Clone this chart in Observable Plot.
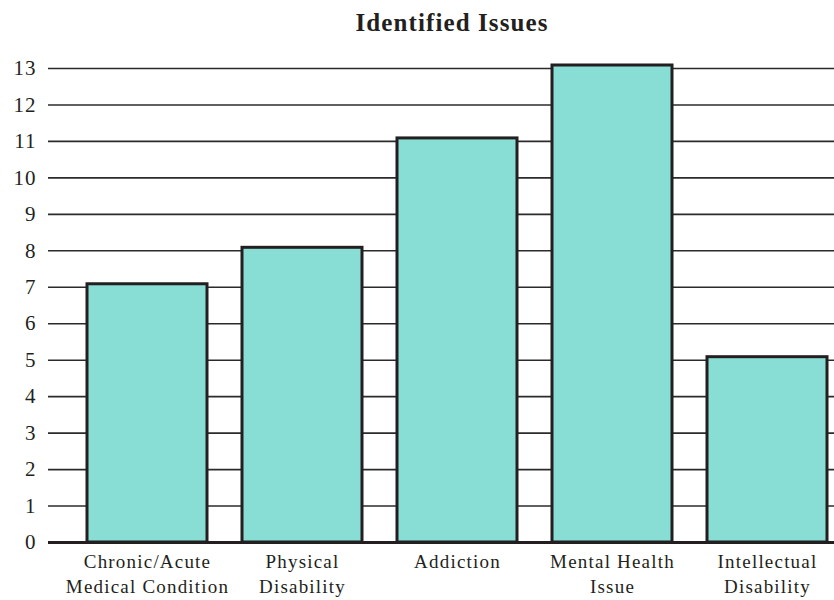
<!DOCTYPE html>
<html>
<head>
<meta charset="utf-8">
<script src="https://cdn.jsdelivr.net/npm/d3@7"></script>
<script src="https://cdn.jsdelivr.net/npm/@observablehq/plot@0.6"></script>
<style>
  body { margin: 0; background: #fff; }
  #title {
    font-family: "Liberation Serif", "Times New Roman", serif;
    font-weight: bold;
    font-size: 25px;
    line-height: 25px;
    letter-spacing: 1.1px;
    padding: 10px 0 9px 70px;
    width: 764px;
    text-align: center;
    color: #231f20;
  }
  [aria-label="x-axis tick label"] { letter-spacing: 1.2px; }
  [aria-label="y-axis tick label"] { letter-spacing: 1px; }
</style>
</head>
<body>
<div id="title">Identified Issues</div>
<div id="chart"></div>
<script>
// Number of cases per identified issue
const categories = [
  "Chronic/Acute Medical Condition",
  "Physical Disability",
  "Addiction",
  "Mental Health Issue",
  "Intellectual Disability"
];
const tickLabels = [
  "Chronic/Acute\nMedical Condition",
  "Physical\nDisability",
  "Addiction",
  "Mental Health\nIssue",
  "Intellectual\nDisability"
];
const counts = [7, 8, 11, 13, 5];
const yTicks = [0, 1, 2, 3, 4, 5, 6, 7, 8, 9, 10, 11, 12, 13];

const data = categories.map((c, i) => ({category: c, count: counts[i]}));
const labelOf = new Map(categories.map((c, i) => [c, tickLabels[i]]));

const chart = Plot.plot({
  width: 834,
  height: 556,
  marginTop: 24,
  marginBottom: 58,
  marginLeft: 48,
  marginRight: 0,
  style: {fontFamily: '"Liberation Serif", "Times New Roman", serif', color: "#231f20", background: "#fff"},
  x: {domain: categories, range: [50.6, 863.8], padding: 0.223},
  y: {domain: [0, 13]},
  marks: [
    Plot.ruleY(yTicks.filter(d => d > 0), {stroke: "#2b2b2b", strokeWidth: 1.6}),
    Plot.barY(data, {x: "category", y: "count", fill: "#88ded4", stroke: "#231f20", strokeWidth: 3, insetTop: -3}),
    Plot.ruleY([0], {stroke: "#231f20", strokeWidth: 3}),
    Plot.axisY({ticks: yTicks, tickSize: 0, tickPadding: 12, fontSize: 21, label: null}),
    Plot.axisX({tickSize: 0, tickPadding: 7, fontSize: 19, lineHeight: 1.35, tickFormat: d => labelOf.get(d), label: null})
  ]
});
document.getElementById("chart").append(chart);
</script>
</body>
</html>
